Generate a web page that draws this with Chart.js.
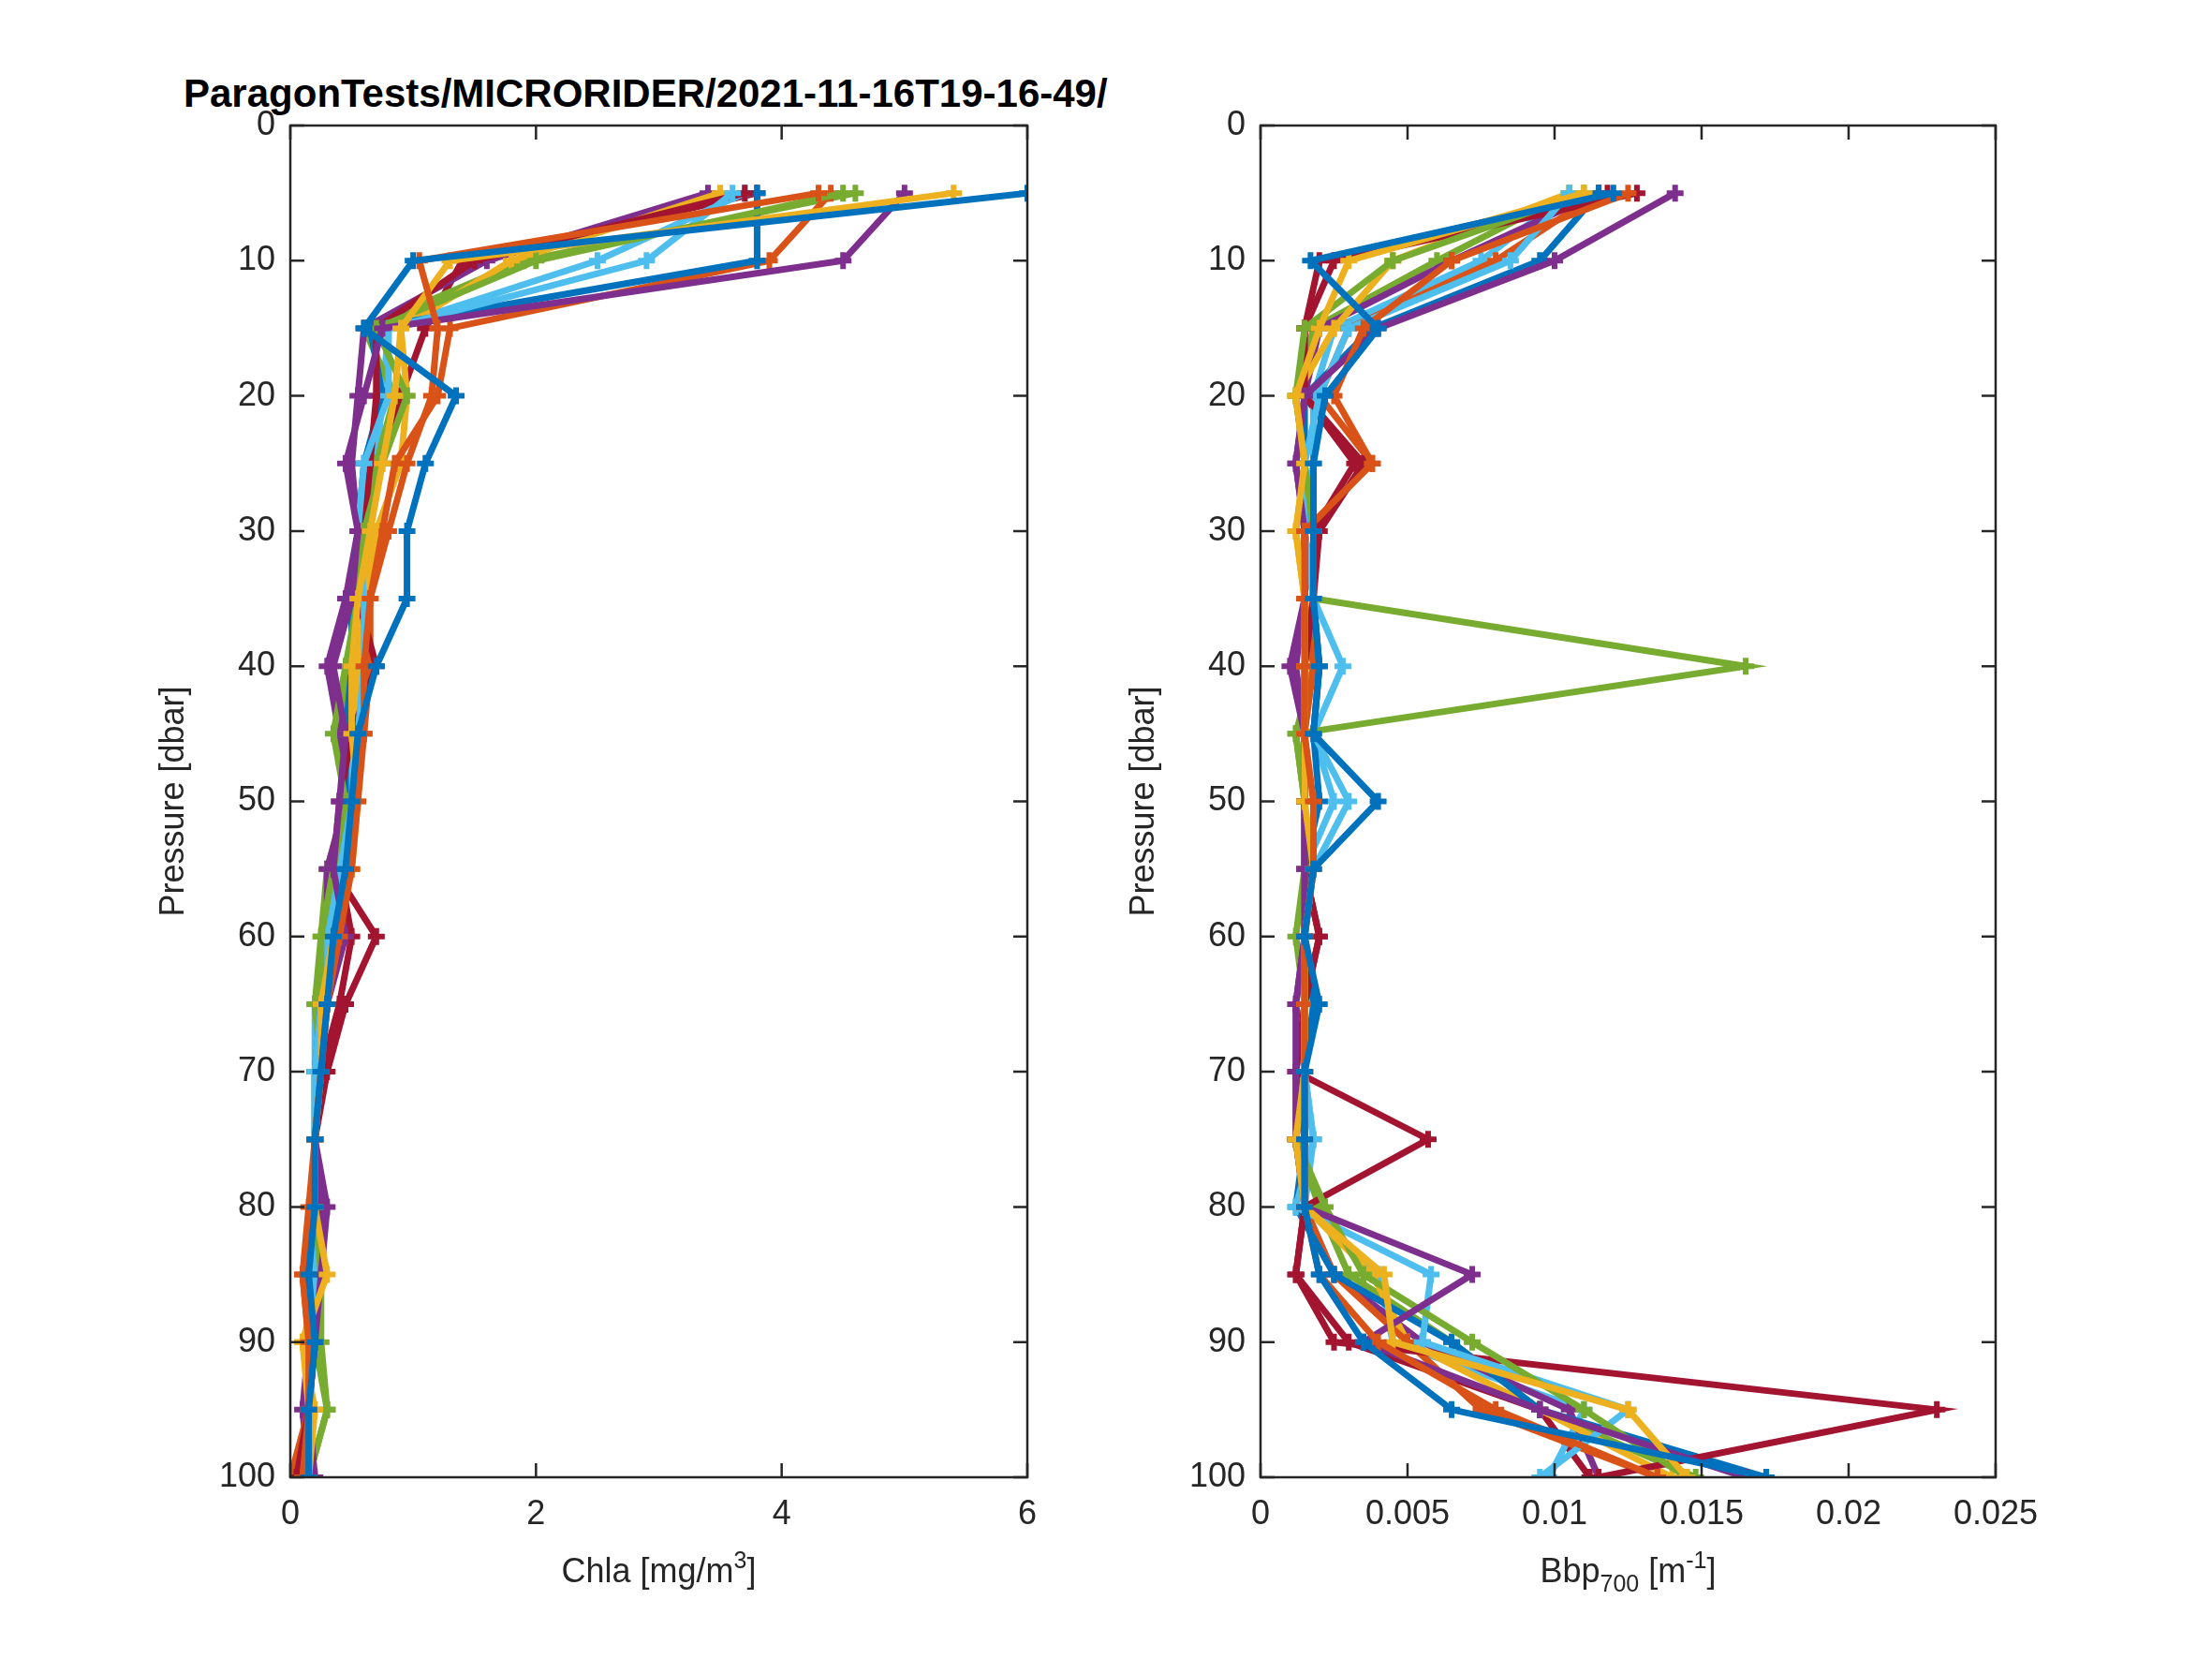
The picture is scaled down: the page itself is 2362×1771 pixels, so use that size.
<!DOCTYPE html>
<html>
<head>
<meta charset="utf-8">
<script src="https://cdn.jsdelivr.net/npm/chart.js@4"></script>
<style>
  body { margin: 0; background: #fff; width: 2362px; height: 1771px; position: relative; overflow: hidden; }
  .box { position: absolute; top: 0; height: 1771px; }
  #title { position: absolute; top: 76px; left: 196px; font: bold 42px "Liberation Sans", Arial, sans-serif; color: #000; white-space: nowrap; }
</style>
</head>
<body>
<div id="title">ParagonTests/MICRORIDER/2021-11-16T19-16-49/</div>
<div class="box" style="left:150px;width:1000px"><canvas id="chla"></canvas></div>
<div class="box" style="left:1186px;width:1000px"><canvas id="bbp"></canvas></div>
<script>
var colors = ['#0072BD', '#D95319', '#EDB120', '#7E2F8E', '#77AC30', '#4DBEEE', '#A2142F'];

var depths = [5, 10, 15, 20, 25, 30, 35, 40, 45, 50, 55, 60, 65, 70, 75, 80, 85, 90, 95, 100];

var chlaProfiles = [
  [6.0, 1.0, 0.6, 1.35, 1.1, 0.95, 0.95, 0.7, 0.55, 0.5, 0.45, 0.35, 0.3, 0.25, 0.2, 0.2, 0.15, 0.2, 0.15, 0.15],
  [4.3, 1.05, 1.2, 1.15, 0.95, 0.8, 0.65, 0.6, 0.6, 0.55, 0.5, 0.4, 0.3, 0.25, 0.2, 0.15, 0.1, 0.15, 0.15, 0.1],
  [5.4, 1.3, 0.9, 0.85, 0.75, 0.65, 0.55, 0.5, 0.5, 0.55, 0.5, 0.35, 0.25, 0.25, 0.2, 0.2, 0.3, 0.1, 0.2, 0.15],
  [5.0, 4.5, 0.75, 0.6, 0.45, 0.55, 0.5, 0.35, 0.45, 0.4, 0.35, 0.45, 0.3, 0.25, 0.2, 0.3, 0.25, 0.2, 0.15, 0.2],
  [4.5, 2.0, 0.7, 0.95, 0.75, 0.6, 0.55, 0.45, 0.35, 0.45, 0.35, 0.25, 0.25, 0.25, 0.2, 0.2, 0.25, 0.25, 0.3, 0.15],
  [3.6, 2.9, 0.8, 0.8, 0.6, 0.55, 0.6, 0.6, 0.55, 0.5, 0.4, 0.3, 0.25, 0.2, 0.2, 0.2, 0.2, 0.2, 0.15, 0.15],
  [3.7, 1.5, 0.7, 0.7, 0.65, 0.6, 0.55, 0.7, 0.5, 0.4, 0.35, 0.7, 0.45, 0.3, 0.2, 0.2, 0.15, 0.2, 0.15, 0.05],
  [3.8, 3.8, 0.65, 0.75, 0.6, 0.55, 0.5, 0.5, 0.45, 0.45, 0.35, 0.3, 0.25, 0.2, 0.2, 0.2, 0.2, 0.2, 0.15, 0.15],
  [4.4, 3.9, 1.3, 1.2, 0.85, 0.75, 0.65, 0.65, 0.6, 0.5, 0.4, 0.35, 0.25, 0.25, 0.2, 0.2, 0.1, 0.15, 0.15, 0.0],
  [3.5, 1.8, 0.9, 0.95, 0.9, 0.7, 0.6, 0.55, 0.55, 0.5, 0.45, 0.35, 0.25, 0.2, 0.2, 0.2, 0.25, 0.1, 0.15, 0.1],
  [3.4, 1.6, 0.6, 0.55, 0.5, 0.55, 0.45, 0.3, 0.4, 0.45, 0.3, 0.3, 0.25, 0.25, 0.2, 0.25, 0.2, 0.15, 0.1, 0.15],
  [4.6, 1.9, 0.6, 0.85, 0.7, 0.6, 0.5, 0.5, 0.4, 0.45, 0.3, 0.25, 0.2, 0.25, 0.2, 0.2, 0.2, 0.2, 0.3, 0.15],
  [3.7, 2.5, 0.8, 0.75, 0.7, 0.6, 0.55, 0.65, 0.45, 0.5, 0.4, 0.3, 0.2, 0.2, 0.2, 0.25, 0.2, 0.15, 0.15, 0.15],
  [3.8, 1.4, 1.1, 0.9, 0.7, 0.65, 0.6, 0.55, 0.5, 0.45, 0.4, 0.5, 0.4, 0.25, 0.2, 0.2, 0.2, 0.15, 0.15, 0.1]
];

var bbpProfiles = [
  [0.012, 0.0017, 0.004, 0.0022, 0.0018, 0.0018, 0.0018, 0.002, 0.0018, 0.004, 0.0018, 0.0015, 0.002, 0.0015, 0.0015, 0.0015, 0.002, 0.0035, 0.0065, 0.0172],
  [0.0125, 0.0065, 0.0035, 0.0025, 0.0038, 0.0015, 0.0015, 0.0015, 0.0015, 0.0018, 0.0018, 0.0015, 0.0015, 0.0015, 0.0015, 0.0015, 0.002, 0.004, 0.008, 0.0135],
  [0.011, 0.003, 0.002, 0.0012, 0.0015, 0.0012, 0.0015, 0.0015, 0.0015, 0.0015, 0.0018, 0.0015, 0.0015, 0.0015, 0.0012, 0.0015, 0.0042, 0.0045, 0.0125, 0.0145],
  [0.0141, 0.01, 0.004, 0.0015, 0.0012, 0.0015, 0.0015, 0.001, 0.0015, 0.0015, 0.0015, 0.0015, 0.0012, 0.0012, 0.0012, 0.0015, 0.0072, 0.0035, 0.0095, 0.0165],
  [0.011, 0.0045, 0.0015, 0.0012, 0.0015, 0.0018, 0.0018, 0.0165, 0.0012, 0.0015, 0.0015, 0.0015, 0.0015, 0.0015, 0.0012, 0.0022, 0.0035, 0.0072, 0.011, 0.0145],
  [0.0105, 0.0085, 0.003, 0.002, 0.0015, 0.0015, 0.0018, 0.0028, 0.0018, 0.003, 0.0018, 0.0015, 0.0015, 0.0015, 0.0018, 0.0012, 0.0058, 0.0055, 0.0125, 0.0095],
  [0.0128, 0.0025, 0.0015, 0.0015, 0.0035, 0.002, 0.0018, 0.0015, 0.0015, 0.0015, 0.0015, 0.002, 0.0015, 0.0012, 0.0057, 0.0015, 0.0012, 0.0025, 0.023, 0.0115],
  [0.0115, 0.0095, 0.0038, 0.0015, 0.0015, 0.0015, 0.0018, 0.002, 0.0018, 0.002, 0.0015, 0.0015, 0.0018, 0.0015, 0.0015, 0.0012, 0.0025, 0.0065, 0.0095, 0.0172],
  [0.0115, 0.008, 0.003, 0.002, 0.0038, 0.0015, 0.0015, 0.0018, 0.0015, 0.0015, 0.0015, 0.0015, 0.0015, 0.0015, 0.0015, 0.0015, 0.0025, 0.005, 0.0075, 0.0135],
  [0.0105, 0.0045, 0.0025, 0.0012, 0.0015, 0.0012, 0.0015, 0.0015, 0.0015, 0.0015, 0.0015, 0.0015, 0.0015, 0.0012, 0.0012, 0.0015, 0.0038, 0.005, 0.0095, 0.014],
  [0.0115, 0.0065, 0.002, 0.0015, 0.0012, 0.0015, 0.0015, 0.0012, 0.0015, 0.0015, 0.0015, 0.0015, 0.0012, 0.0015, 0.0012, 0.0015, 0.0025, 0.0055, 0.0105, 0.0115],
  [0.0105, 0.006, 0.0018, 0.0012, 0.0015, 0.0018, 0.0018, 0.0018, 0.0012, 0.0015, 0.0015, 0.0012, 0.0015, 0.0015, 0.0012, 0.002, 0.003, 0.0065, 0.0095, 0.0148],
  [0.0105, 0.0075, 0.0025, 0.0018, 0.0018, 0.0015, 0.0018, 0.002, 0.0018, 0.0025, 0.0015, 0.0015, 0.0015, 0.0015, 0.0018, 0.0015, 0.004, 0.0045, 0.011, 0.0098],
  [0.0118, 0.002, 0.0015, 0.0015, 0.0032, 0.0018, 0.0018, 0.0015, 0.0015, 0.0015, 0.0015, 0.002, 0.0015, 0.0012, 0.0015, 0.0015, 0.0012, 0.003, 0.0095, 0.0112]
];

var chlaTicks = [0, 2, 4, 6];
var bbpTicks = [0, 0.005, 0.01, 0.015, 0.02, 0.025];
var depthTicks = [0, 10, 20, 30, 40, 50, 60, 70, 80, 90, 100];

var FONT = '"Liberation Sans", Arial, sans-serif';

// box around plot area with inward ticks on all four sides, plus x title with sub/superscript
var matlabAxes = {
  id: 'matlabAxes',
  afterDraw(chart, args, opts) {
    var ctx = chart.ctx, a = chart.chartArea;
    var xs = chart.scales.x, ys = chart.scales.y;
    ctx.save();
    ctx.strokeStyle = '#262626';
    ctx.lineWidth = 2.5;
    ctx.strokeRect(a.left, a.top, a.right - a.left, a.bottom - a.top);
    var t = 15;
    ctx.beginPath();
    xs.ticks.forEach(function (tk) {
      var px = xs.getPixelForValue(tk.value);
      ctx.moveTo(px, a.bottom); ctx.lineTo(px, a.bottom - t);
      ctx.moveTo(px, a.top); ctx.lineTo(px, a.top + t);
    });
    ys.ticks.forEach(function (tk) {
      var py = ys.getPixelForValue(tk.value);
      ctx.moveTo(a.left, py); ctx.lineTo(a.left + t, py);
      ctx.moveTo(a.right, py); ctx.lineTo(a.right - t, py);
    });
    ctx.stroke();

    var parts = opts.parts;
    var big = '36px ' + FONT, small = '25px ' + FONT;
    var w = 0;
    parts.forEach(function (p) { ctx.font = p[1] ? small : big; w += ctx.measureText(p[0]).width; });
    var x = (a.left + a.right) / 2 - w / 2, y = a.bottom + 112;
    ctx.fillStyle = '#262626';
    ctx.textBaseline = 'alphabetic';
    ctx.textAlign = 'left';
    parts.forEach(function (p) {
      ctx.font = p[1] ? small : big;
      var dy = p[1] === 'sub' ? 10 : (p[1] === 'sup' ? -15 : 0);
      ctx.fillText(p[0], x, y + dy);
      x += ctx.measureText(p[0]).width;
    });
    ctx.restore();
  }
};

function makeChart(id, profiles, xMax, xTicks, titleParts) {
  var datasets = profiles.map(function (vals, i) {
    return {
      data: vals.map(function (v, j) { return { x: v, y: depths[j] }; }),
      borderColor: colors[i % 7],
      backgroundColor: colors[i % 7],
      borderWidth: 7,
      pointStyle: 'cross',
      pointRadius: 9,
      pointBorderWidth: 6,
      tension: 0
    };
  });
  var tickFont = { family: FONT, size: 36 };
  return new Chart(document.getElementById(id), {
    type: 'line',
    data: { datasets: datasets },
    options: {
      responsive: true,
      maintainAspectRatio: false,
      animation: false,
      layout: { padding: { top: 134, right: 53, bottom: 0, left: 0 } },
      plugins: { legend: { display: false }, tooltip: { enabled: false }, matlabAxes: { parts: titleParts } },
      scales: {
        x: {
          type: 'linear', min: 0, max: xMax,
          afterBuildTicks: function (s) { s.ticks = xTicks.map(function (v) { return { value: v }; }); },
          afterFit: function (s) { s.height = 194; },
          grid: { display: false },
          border: { display: false },
          ticks: { font: tickFont, color: '#262626', padding: 10, maxRotation: 0,
            callback: function (v) { return String(+v.toFixed(3)); } }
        },
        y: {
          type: 'linear', min: 0, max: 100, reverse: true,
          afterBuildTicks: function (s) { s.ticks = depthTicks.map(function (v) { return { value: v }; }); },
          afterFit: function (s) { s.width = 160; },
          grid: { display: false },
          border: { display: false },
          title: { display: true, text: 'Pressure [dbar]', font: tickFont, color: '#262626', padding: 14 },
          ticks: { font: tickFont, color: '#262626', padding: 8 }
        }
      }
    },
    plugins: [matlabAxes]
  });
}

makeChart('chla', chlaProfiles, 6, chlaTicks, [['Chla [mg/m', ''], ['3', 'sup'], [']', '']]);
makeChart('bbp', bbpProfiles, 0.025, bbpTicks, [['Bbp', ''], ['700', 'sub'], [' [m', ''], ['-1', 'sup'], [']', '']]);
</script>
</body>
</html>
